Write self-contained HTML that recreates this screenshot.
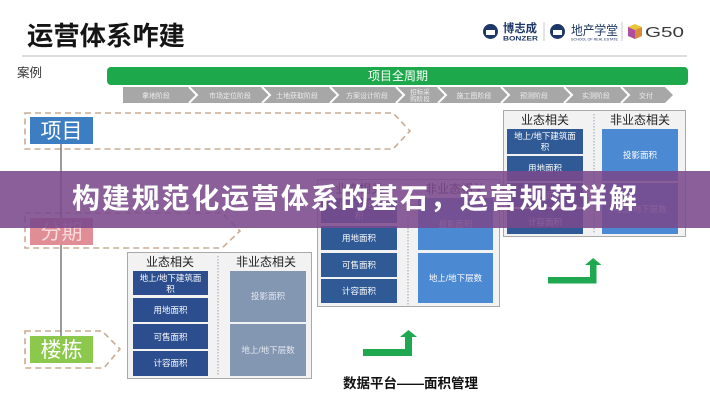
<!DOCTYPE html>
<html><head><meta charset="utf-8"><style>
html,body{margin:0;padding:0;background:#fff;}
body{width:710px;height:400px;overflow:hidden;}
svg{display:block;font-family:"Liberation Sans","Noto Sans CJK SC",sans-serif;}
</style></head><body>
<svg width="710" height="400" viewBox="0 0 710 400" xmlns="http://www.w3.org/2000/svg">
<rect width="710" height="400" fill="#fff"/>
<!-- title -->
<text x="27" y="45" font-size="26" font-weight="bold" fill="#151515" textLength="158" lengthAdjust="spacingAndGlyphs">运营体系咋建</text>
<line x1="22" y1="56" x2="687" y2="56" stroke="#bdbdbd" stroke-width="1"/>
<!-- logos -->
<circle cx="490.5" cy="31.5" r="7.5" fill="#1d3766"/>
<path d="M486 30 h9 v5 h-9z" fill="#fff"/>
<text x="503" y="32" font-size="11.5" font-weight="bold" fill="#1d3766" textLength="34" lengthAdjust="spacingAndGlyphs">博志成</text>
<text x="503" y="40.5" font-size="6.5" font-weight="bold" fill="#1d3766" textLength="35" lengthAdjust="spacingAndGlyphs">BONZER</text>
<line x1="544" y1="22" x2="544" y2="41" stroke="#bbb" stroke-width="0.8"/>
<circle cx="557.5" cy="31.5" r="7.5" fill="#1d3766"/>
<path d="M553 30 h9 v5 h-9z" fill="#fff"/>
<text x="571" y="35" font-size="13" fill="#1d3766" textLength="47" lengthAdjust="spacingAndGlyphs">地产学堂</text>
<text x="571" y="40.5" font-size="3.5" fill="#1d3766" textLength="47" lengthAdjust="spacingAndGlyphs">SCHOOL OF REAL ESTATE</text>
<line x1="622" y1="22" x2="622" y2="41" stroke="#bbb" stroke-width="0.8"/>
<path d="M628 27 L635 24 L642 27 L642 36 L635 39 L628 36Z" fill="#e9c53c"/>
<path d="M628 27 L635 30 L635 39 L628 36Z" fill="#b14d9e"/>
<path d="M635 30 L642 27 L642 36 L635 39Z" fill="#d98a3a"/>
<text x="645" y="37" font-size="15" fill="#3a3a3a" textLength="39" lengthAdjust="spacingAndGlyphs">G50</text>
<!-- case label -->
<text x="17" y="77" font-size="12.5" fill="#333">案例</text>
<!-- green bar -->
<rect x="107" y="67" width="581" height="18" rx="4" fill="#1ca84b"/>
<text x="398" y="80" font-size="12" fill="#fff" text-anchor="middle">项目全周期</text>
<!-- chevron bar -->
<polygon points="123,87 665,87 673,95 665,103 123,103" fill="#a7a7a7"/>
<g fill="none" stroke="#fff" stroke-width="2">
<polyline points="189,87 197,95 189,103"/>
<polyline points="262,87 270,95 262,103"/>
<polyline points="330,87 338,95 330,103"/>
<polyline points="396,87 404,95 396,103"/>
<polyline points="438,87 446,95 438,103"/>
<polyline points="501,87 509,95 501,103"/>
<polyline points="564,87 572,95 564,103"/>
<polyline points="621,87 629,95 621,103"/>
</g>
<g font-size="7" fill="#ececec" text-anchor="middle">
<text x="156" y="98">拿地阶段</text>
<text x="230" y="98">市场定位阶段</text>
<text x="297" y="98">土地获取阶段</text>
<text x="367" y="98">方案设计阶段</text>
<text x="420" y="94" font-size="6.5">招标采</text>
<text x="420" y="101" font-size="6.5">购阶段</text>
<text x="474" y="98">施工图阶段</text>
<text x="534" y="98">预测阶段</text>
<text x="596" y="98">实测阶段</text>
<text x="646" y="98">交付</text>
</g>
<!-- dashed rows -->
<g fill="none" stroke="#c9ab93" stroke-width="1.6" stroke-dasharray="6 4">
<polygon points="25,113 393,113 410,131 393,149 25,149"/>
<polygon points="25,213 222,213 240,231 222,248 25,248"/>
<polygon points="25,331 102,331 120,349 104,368 25,368"/>
</g>
<!-- vertical connector -->
<line x1="61" y1="143" x2="61" y2="336" stroke="#7a7a7a" stroke-width="1.5"/>
<!-- level boxes -->
<rect x="30" y="117" width="63" height="27" fill="#3d7ec2"/>
<text x="61.5" y="138" font-size="21" fill="#fff" text-anchor="middle">项目</text>
<rect x="30" y="218" width="63" height="27" fill="#e08d95"/>
<text x="61.5" y="239" font-size="21" fill="#f6dadd" text-anchor="middle">分期</text>
<rect x="30" y="336" width="63" height="27" fill="#8cc84b"/>
<text x="61.5" y="357" font-size="21" fill="#fff" text-anchor="middle">楼栋</text>

<!-- left table (楼栋) -->
<rect x="127.5" y="252.5" width="184" height="126" fill="#f2f2f2" stroke="#a9a9a9" stroke-width="1"/>
<line x1="218" y1="256" x2="218" y2="376" stroke="#9aa3b5" stroke-width="1" stroke-dasharray="1.5 1.5"/>
<text x="170" y="266" font-size="12" fill="#222" text-anchor="middle">业态相关</text>
<text x="266" y="266" font-size="12" fill="#222" text-anchor="middle">非业态相关</text>
<g fill="#2c4e8e">
<rect x="133" y="271" width="75" height="24"/>
<rect x="133" y="298" width="75" height="24"/>
<rect x="133" y="324" width="75" height="25"/>
<rect x="133" y="351" width="75" height="25"/>
</g>
<g fill="#8497b2">
<rect x="230" y="271" width="76" height="51"/>
<rect x="230" y="324" width="76" height="52"/>
</g>
<g font-size="8.5" fill="#fff" text-anchor="middle">
<text x="170.5" y="281">地上/地下建筑面</text>
<text x="170.5" y="292">积</text>
<text x="170.5" y="313">用地面积</text>
<text x="170.5" y="340">可售面积</text>
<text x="170.5" y="366">计容面积</text>
<text x="268" y="299" fill="#e4e8f0">投影面积</text>
<text x="268" y="353" fill="#e4e8f0">地上/地下层数</text>
</g>

<!-- middle table (分期) -->
<rect x="317.5" y="179.5" width="182" height="127" fill="#f2f2f2" stroke="#a9a9a9" stroke-width="1"/>
<line x1="408" y1="183" x2="408" y2="305" stroke="#9aa3b5" stroke-width="1" stroke-dasharray="1.5 1.5"/>
<text x="359" y="193" font-size="12" fill="#222" text-anchor="middle">业态相关</text>
<text x="455" y="193" font-size="12" fill="#222" text-anchor="middle">非业态相关</text>
<g fill="#2f5a96">
<rect x="321" y="198" width="76" height="25"/>
<rect x="321" y="226" width="76" height="24"/>
<rect x="321" y="253" width="76" height="24"/>
<rect x="321" y="279" width="76" height="24"/>
</g>
<g fill="#4c89d3">
<rect x="418" y="198" width="75" height="52"/>
<rect x="418" y="253" width="75" height="50"/>
</g>
<g font-size="8.5" fill="#fff" text-anchor="middle">
<text x="359" y="208">地上/地下建筑面</text>
<text x="359" y="219">积</text>
<text x="359" y="241">用地面积</text>
<text x="359" y="268">可售面积</text>
<text x="359" y="294">计容面积</text>
<text x="455.5" y="227">投影面积</text>
<text x="455.5" y="281">地上/地下层数</text>
</g>

<!-- right table (项目) -->
<rect x="503.5" y="110.5" width="182" height="126" fill="#f2f2f2" stroke="#a9a9a9" stroke-width="1"/>
<line x1="594" y1="114" x2="594" y2="234" stroke="#9aa3b5" stroke-width="1" stroke-dasharray="1.5 1.5"/>
<text x="545" y="124" font-size="12" fill="#222" text-anchor="middle">业态相关</text>
<text x="640" y="124" font-size="12" fill="#222" text-anchor="middle">非业态相关</text>
<g fill="#2f5a96">
<rect x="507" y="129" width="76" height="25"/>
<rect x="507" y="156" width="76" height="25"/>
<rect x="507" y="183" width="76" height="24"/>
<rect x="507" y="209" width="76" height="25"/>
</g>
<g fill="#4c89d3">
<rect x="602" y="129" width="76" height="52"/>
<rect x="602" y="183" width="76" height="51"/>
</g>
<g font-size="8.5" fill="#fff" text-anchor="middle">
<text x="545" y="139">地上/地下建筑面</text>
<text x="545" y="150">积</text>
<text x="545" y="171">用地面积</text>
<text x="545" y="198">可售面积</text>
<text x="545" y="225">计容面积</text>
<text x="640" y="158">投影面积</text>
<text x="640" y="212">地上/地下层数</text>
</g>

<!-- green arrows -->
<g fill="#1fa84f">
<rect x="363" y="349" width="49" height="7"/>
<rect x="405" y="336" width="7" height="20"/>
<polygon points="400,337 417,337 408.5,330"/>
<rect x="548" y="277" width="48" height="6.5"/>
<rect x="590" y="264" width="6.5" height="19.5"/>
<polygon points="585,265 601.5,265 593.2,258"/>
</g>
<text x="343" y="388" font-size="13.5" font-weight="bold" fill="#111" textLength="135" lengthAdjust="spacingAndGlyphs">数据平台——面积管理</text>

<!-- overlay band -->
<rect x="0" y="171" width="710" height="57" fill="rgb(122,73,140)" fill-opacity="0.88"/>
<text x="72" y="208" font-size="28" font-weight="bold" fill="#fff" textLength="565" lengthAdjust="spacing">构建规范化运营体系的基石，运营规范详解</text>
</svg>
</body></html>
